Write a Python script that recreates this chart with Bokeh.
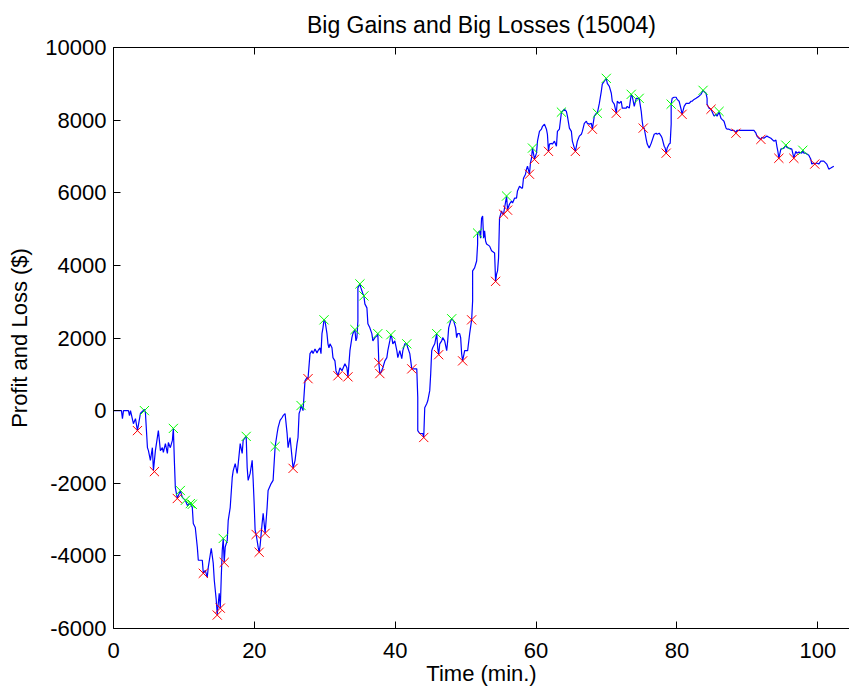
from bokeh.plotting import figure
from bokeh.models import Range1d, LinearAxis, FixedTicker, Title
from bokeh.embed import file_html
from bokeh.resources import INLINE

# ---------------- data (minutes, dollars) ----------------
seg1_time = [0, 0.28, 1.13, 1.27, 1.42, 2.12, 2.27, 2.41, 2.83, 3.12,
             3.40, 3.82, 4.39, 4.53, 4.82, 4.96, 5.24, 5.52, 5.67, 5.95,
             6.37, 6.66, 6.94, 7.08, 7.37, 7.65, 7.79, 8.07, 8.36, 8.50,
             8.64, 8.78, 9.06, 9.21, 9.49, 9.77, 10.20, 10.48, 10.91, 11.19,
             11.33, 11.61, 11.90, 12.04, 12.61, 12.75, 13.03, 13.31, 13.46, 13.88,
             14.16, 14.31, 14.59, 14.73, 15.01, 15.16, 15.30, 15.44, 15.58, 15.72,
             15.86, 16.15, 16.29]
seg1_pnl = [0, 0, 0, -220, 0, 0, -140, 0, -360, -220,
            -550, -80, 30, -50, -1020, -1100, -1370, -1020, -1650, -1100,
            -550, -1100, -1020, -1150, -910, -1180, -880, -1020, -820, -490,
            -1370, -2120, -2420, -2340, -2200, -2390, -2470, -2610, -2560, -2670,
            -3110, -3220, -3760, -4120, -4120, -4480, -4400, -4590, -4310, -3790,
            -4200, -4670, -5220, -5620, -5030, -5440, -4590, -3850, -3520, -4180,
            -3760, -3570, -3020]

seg2_time = [16.57, 16.86, 17.00, 17.28, 17.56, 17.71, 17.99, 18.27, 18.41, 18.70,
             18.84, 18.98, 19.12, 19.40, 19.69, 19.83, 19.97, 20.11, 20.25, 20.54,
             20.68, 20.82, 21.10, 21.25, 21.53, 21.81, 21.95, 22.38, 22.66, 22.95,
             23.23, 23.37, 23.65, 23.94, 24.08, 24.36, 24.65, 24.79, 25.07, 25.35,
             25.50, 25.78, 26.06, 26.20, 26.35, 26.49, 26.63, 26.91, 27.19, 27.48,
             27.62, 27.90, 28.19, 28.33, 28.61, 28.89, 29.04, 29.32, 29.46, 29.60,
             29.74, 29.89, 30.03, 30.31, 30.45, 30.59, 30.74, 31.02, 31.16, 31.44,
             31.59, 31.87, 32.15, 32.44, 32.86, 33.14, 33.29, 33.57, 33.85, 33.99,
             34.28, 34.42]
seg2_pnl = [-2670, -1840, -1650, -1460, -1730, -1460, -910, -1180, -820, -740,
            -710, -1570, -1920, -1730, -1370, -1920, -2560, -3300, -3410, -3760,
            -3900, -3710, -3110, -2830, -3380, -2670, -2200, -2010, -1920, -990,
            -630, -470, -270, -190, -140, -80, -630, -1020, -740, -1290,
            -1590, -1370, -910, -740, -80, 0, 140, 0, 820, 910,
            880, 1570, 1650, 1570, 1700, 1590, 1650, 1730, 1570, 2120,
            2280, 2500, 2470, 2120, 1840, 1730, 1840, 1730, 1460, 1370,
            1100, 960, 1180, 1100, 1290, 1180, 930, 1650, 2010, 2120,
            2230, 1920]

seg3_time = [34.56, 34.70, 34.70, 34.99, 35.13, 35.41, 35.55, 35.69, 35.98, 36.12,
             36.40, 36.68, 36.83, 37.11, 37.39, 37.53, 37.67, 37.82, 37.96, 38.24,
             38.53, 38.81, 38.95, 39.23, 39.38, 39.52, 39.66, 39.94, 40.23, 40.37,
             40.65, 40.93, 41.08, 41.36, 41.64, 41.78, 42.07, 42.35, 43.06, 43.20,
             43.20, 43.48, 43.91, 44.05, 44.19, 44.47, 44.62, 44.90, 45.04, 45.18,
             45.32, 45.61, 45.89, 46.03, 46.17, 46.32, 46.60, 46.74, 47.02, 47.31,
             47.45, 47.59, 47.87, 48.02, 48.30, 48.58, 48.72, 48.87, 49.15, 49.29,
             49.43, 49.57, 49.86, 50.28, 50.57, 50.85, 50.99, 50.99, 51.27, 51.56,
             51.70, 51.70, 51.98, 52.12, 52.26, 52.41, 52.55, 52.69, 52.83, 52.97,
             53.40, 53.68, 54.11, 54.25, 54.39, 54.53, 54.67, 54.81, 55.10, 55.24,
             55.38, 55.52, 55.81, 55.95, 56.23, 56.51, 56.66, 56.94, 57.22, 57.36,
             57.65, 57.93, 58.07, 58.21, 58.50, 58.64, 58.78, 59.06, 59.20, 59.35,
             59.49, 59.77, 60.06, 60.20, 60.48, 60.76, 60.91, 61.19, 61.47, 61.61,
             61.76, 61.90]
seg3_pnl = [2010, 2470, 3380, 3490, 3380, 3220, 3160, 2940, 2830, 2390,
            2280, 2120, 1920, 2010, 2060, 2120, 1320, 1020, 1040, 1180,
            1370, 1460, 1650, 1920, 2090, 2010, 1840, 1920, 1650, 1460,
            1650, 1430, 1650, 1840, 1840, 1730, 1570, 1150, 1150, 360,
            -550, -630, -630, -740, 80, 190, 270, 550, 1020, 1650,
            1730, 1840, 2120, 1730, 1540, 1840, 1920, 2010, 1920, 1650,
            1920, 2280, 2470, 2530, 2470, 2280, 2010, 2120, 2120, 2010,
            1570, 1370, 1650, 1650, 2120, 2500, 3020, 3850, 3930, 4120,
            4590, 4890, 4950, 4750, 5300, 5360, 4750, 4950, 4670, 4590,
            4530, 4400, 4340, 3560, 3760, 3850, 4200, 5300, 5500, 5410,
            5410, 5580, 5900, 5540, 5690, 5770, 5720, 5850, 5850, 6050,
            6180, 6130, 6130, 6400, 6510, 6650, 6730, 6520, 6820, 6950,
            7230, 6930, 7090, 7420, 7690, 7750, 7830, 7890, 7750, 7610,
            7140, 7340]

seg4_time = [62.18, 62.32, 62.61, 62.89, 63.03, 63.31, 63.60, 63.74, 64.02, 64.30,
             64.45, 64.73, 65.01, 65.15, 65.44, 65.58, 65.72, 65.86, 66.14, 66.43,
             66.57, 66.85, 67.14, 67.28, 67.56, 67.85, 67.99, 68.27, 68.55, 68.70,
             68.98, 69.26, 69.40, 69.69, 69.97, 70.11, 70.40, 70.68, 70.82, 71.10,
             71.39, 71.53, 71.81, 72.09, 72.24, 72.52, 72.80, 72.94, 73.23, 73.51,
             73.65, 73.94, 74.22, 74.64, 74.93, 75.07, 75.21, 75.35, 75.64, 75.78,
             76.06, 76.34, 76.77, 77.05, 77.19, 77.48, 77.76, 77.90, 78.19, 78.33,
             78.47, 78.61, 78.89, 79.04, 79.18, 79.18, 79.32, 79.60, 79.89, 80.03,
             80.31, 80.59, 80.73, 81.02, 81.30, 81.73, 82.01, 82.15, 82.43, 82.72,
             83.14, 83.42, 83.57, 83.71, 83.85, 84.13, 84.28, 84.28, 84.56, 84.84,
             84.98, 85.27, 85.55, 85.69, 85.98, 86.26, 86.40, 86.68, 86.97, 87.11,
             87.39, 87.67, 88.10, 88.38, 88.52, 89.94, 90.93, 91.22, 91.36, 91.64,
             91.92, 92.07, 92.35, 92.77, 93.06, 93.34, 93.76, 94.05, 94.19, 94.33,
             94.47, 94.75, 95.18, 95.46, 95.60, 95.89, 96.31, 96.60, 96.88, 97.02,
             97.31, 97.73, 97.87, 98.01, 98.30, 98.72, 99.01, 99.15, 99.43, 99.57,
             99.86, 100.14, 100.42, 100.85, 101.27, 101.56, 101.84, 102.27]
seg4_pnl = [7360, 7340, 7420, 7280, 7690, 7750, 8220, 8240, 8300, 8240,
            8110, 7780, 7690, 7420, 7230, 7140, 7280, 7420, 7560, 7610,
            7690, 7910, 7970, 7910, 7890, 7910, 7750, 8110, 8190, 8190,
            8460, 8790, 8990, 9070, 9150, 9010, 8930, 8740, 8520, 8440,
            8190, 8520, 8460, 8520, 8330, 8330, 8330, 8380, 8330, 8710,
            8660, 8380, 8600, 8600, 8240, 7970, 7780, 7780, 7470, 7340,
            7230, 7360, 7610, 7640, 7610, 7640, 7560, 7500, 7280, 7230,
            7090, 7230, 7340, 7360, 7890, 8440, 8600, 8630, 8630, 8570,
            8520, 8300, 8160, 8380, 8460, 8460, 8520, 8520, 8570, 8600,
            8660, 8710, 8770, 8820, 8790, 8740, 8600, 8440, 8330, 8300,
            8240, 8110, 8160, 8110, 8220, 8050, 8020, 7970, 7780, 7750,
            7750, 7720, 7720, 7660, 7720, 7720, 7720, 7640, 7560, 7500,
            7470, 7530, 7500, 7560, 7530, 7500, 7420, 7450, 7280, 7140,
            6950, 7200, 7230, 7310, 7250, 7230, 7200, 6960, 7140, 7090,
            7120, 7090, 7170, 7090, 7090, 7030, 6920, 6790, 6820, 6790,
            6820, 6790, 6870, 6870, 6790, 6650, 6680, 6730]

gain_time = [4.39, 8.50, 9.49, 10.20, 10.91, 11.19, 15.58, 18.84, 22.95, 26.63,
             29.89, 34.28, 34.99, 35.55, 37.53, 39.38, 41.64, 45.89, 48.02, 51.70,
             55.81, 59.49, 63.60, 68.70, 69.97, 73.51, 74.64, 79.18, 83.71, 85.98,
             95.46, 97.87]
gain_pnl = [0, -490, -2200, -2470, -2560, -2580, -3520, -710, -990, 140,
            2500, 2230, 3490, 3160, 2120, 2090, 1840, 2120, 2530, 4890,
            5910, 7230, 8220, 8190, 9150, 8710, 8600, 8440, 8820, 8240,
            7310, 7170]

loss_time = [3.40, 5.81, 9.06, 12.75, 14.73, 15.16, 15.72, 20.25, 20.68, 21.53,
             25.50, 27.62, 31.87, 33.29, 37.67, 37.82, 42.35, 44.05, 46.17, 49.57,
             50.85, 54.25, 55.38, 55.95, 59.06, 59.77, 61.76, 65.58, 67.99, 71.39,
             75.21, 78.47, 80.73, 84.84, 88.38, 91.92, 94.47, 96.60, 99.57]
loss_pnl = [-550, -1680, -2420, -4480, -5630, -5440, -4180, -3410, -3900, -3380,
            -1590, 880, 960, 930, 1320, 1020, 1150, -740, 1540, 1370,
            2500, 3560, 5410, 5520, 6510, 6920, 7140, 7140, 7750, 8190,
            7780, 7090, 8160, 8300, 7640, 7470, 6950, 6950, 6790]

x_ticks = [0, 20, 40, 60, 80, 100]
y_ticks = [-6000, -4000, -2000, 0, 2000, 4000, 6000, 8000, 10000]

title_text = "Big Gains and Big Losses (15004)"
x_label = "Time (min.)"
y_label = "Profit and Loss ($)"

for a, b in [(seg1_time, seg1_pnl), (seg2_time, seg2_pnl),
             (seg3_time, seg3_pnl), (seg4_time, seg4_pnl),
             (gain_time, gain_pnl), (loss_time, loss_pnl)]:
    assert len(a) == len(b), (len(a), len(b))

time_min = seg1_time + seg2_time + seg3_time + seg4_time
pnl = seg1_pnl + seg2_pnl + seg3_pnl + seg4_pnl

# ---------------- figure ----------------
FONT = "Liberation Sans"

p = figure(width=849, height=692,
           x_range=Range1d(0, 104.5), y_range=Range1d(-6000, 10000),
           output_backend="svg", toolbar_location=None, title=None,
           min_border_left=113, min_border_right=0,
           min_border_top=47, min_border_bottom=64)

p.xgrid.visible = False
p.ygrid.visible = False
p.outline_line_color = None
p.background_fill_color = "white"
p.border_fill_color = "white"

xt = FixedTicker(ticks=x_ticks)
yt = FixedTicker(ticks=y_ticks)

xa = p.xaxis[0]
xa.ticker = xt
xa.major_label_overrides = {t: str(t) for t in x_ticks}
ya = p.yaxis[0]
ya.ticker = yt
ya.major_label_overrides = {t: str(t) for t in y_ticks}

for ax in (xa, ya):
    ax.major_tick_in = 7
    ax.major_tick_out = 0
    ax.minor_tick_line_color = None
    ax.axis_line_color = "black"
    ax.major_tick_line_color = "black"
    ax.major_label_text_font = FONT
    ax.major_label_text_font_size = "22px"
    ax.major_label_text_color = "black"
    ax.axis_label_text_font = FONT
    ax.axis_label_text_font_size = "22px"
    ax.axis_label_text_font_style = "normal"
    ax.axis_label_text_color = "black"

xa.axis_label = x_label
xa.major_label_standoff = 14
xa.axis_label_standoff = 0
ya.axis_label = y_label
ya.major_label_standoff = 7
ya.axis_label_standoff = 10

top = LinearAxis(ticker=xt, major_tick_in=7, major_tick_out=0,
                 minor_tick_line_color=None,
                 major_label_overrides={t: "" for t in x_ticks},
                 major_label_standoff=0, axis_line_color="black")
p.add_layout(top, "above")

p.add_layout(Title(text=title_text, align="center", text_font=FONT,
                   text_font_size="23px", text_font_style="normal",
                   text_color="black", standoff=16, vertical_align="top"),
             "above")

p.line(time_min, pnl, line_color="#0000ff", line_width=1.2)
p.scatter(gain_time, gain_pnl, marker="x", size=13, line_color="#00ff00",
          line_width=1)
p.scatter(loss_time, loss_pnl, marker="x", size=13, line_color="#ff0000",
          line_width=1)

open("out.html", "w").write(file_html(p, INLINE))
